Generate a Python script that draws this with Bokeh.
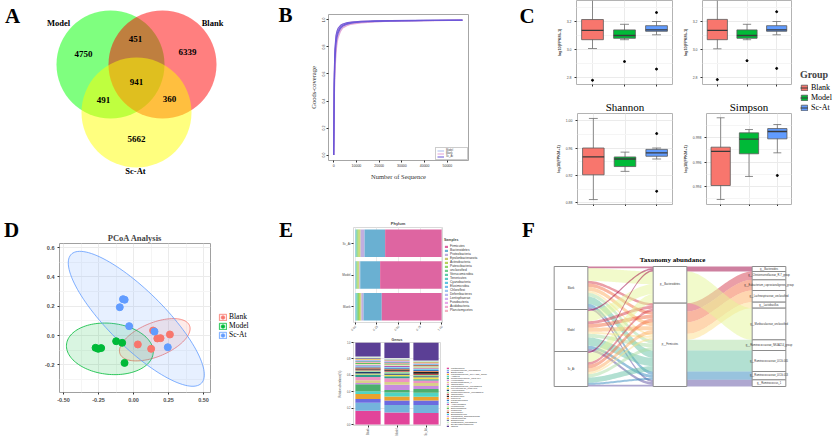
import numpy as np
from bokeh.plotting import figure
from bokeh.layouts import row, column
from bokeh.models import (Range1d, FactorRange, FixedTicker, Label, Legend, LegendItem,
                          ColumnDataSource, PrintfTickFormatter)
from bokeh.core.properties import value
from bokeh.embed import file_html
from bokeh.resources import INLINE

SERIF = "Liberation Serif"
SANS = "Liberation Sans"

# ======================= DATA =======================
# A: Venn diagram (OTU counts)
VENN_SETS = ["Model", "Blank", "Sc-At"]
VENN_FILL = ["#00FF00", "#FF0000", "#FFFF00"]
VENN_REGIONS = ["Model", "Model&Blank", "Blank", "All", "Model&Sc-At", "Blank&Sc-At", "Sc-At"]
VENN_COUNTS = [4750, 451, 6339, 941, 491, 360, 5662]

# B: Goods-coverage rarefaction curves
B_GROUPS = ["Model", "Blank", "Sc_At"]
B_COLORS = ["#A9BCEF", "#E4A3D4", "#6A55D8"]
B_DEPTH = [0, 250, 500, 1000, 1500, 2000, 3000, 4000, 6000, 8000, 12000, 18000, 25000, 35000, 45000, 56600]
B_MODEL = [
    [0, 0.42, 0.62, 0.78, 0.85, 0.885, 0.925, 0.945, 0.963, 0.972, 0.981, 0.987, 0.991, 0.994, 0.996, 0.997],
    [0, 0.50, 0.69, 0.83, 0.88, 0.91, 0.94, 0.955, 0.970, 0.977, 0.985, 0.989, 0.992, 0.995, 0.997, 0.998],
    [0, 0.55, 0.74, 0.86, 0.905, 0.928, 0.952, 0.964, 0.976, 0.982, 0.988, 0.991, 0.994, 0.996, 0.997, 0.998],
]
B_BLANK = [
    [0, 0.38, 0.58, 0.75, 0.83, 0.87, 0.915, 0.94, 0.958, 0.969, 0.978, 0.985, 0.990, 0.993, 0.995, 0.997],
    [0, 0.46, 0.66, 0.81, 0.87, 0.90, 0.935, 0.952, 0.967, 0.975, 0.983, 0.988, 0.992, 0.994, 0.996, 0.997],
    [0, 0.58, 0.76, 0.875, 0.915, 0.935, 0.957, 0.968, 0.978, 0.984, 0.989, 0.992, 0.995, 0.996, 0.998, 0.999],
]
B_SCAT = [
    [0, 0.48, 0.67, 0.82, 0.875, 0.905, 0.938, 0.955, 0.969, 0.977, 0.984, 0.989, 0.992, 0.995, 0.996, 0.998],
    [0, 0.53, 0.72, 0.85, 0.895, 0.92, 0.948, 0.961, 0.974, 0.980, 0.986, 0.990, 0.993, 0.995, 0.997, 0.998],
    [0, 0.60, 0.78, 0.885, 0.92, 0.94, 0.96, 0.97, 0.98, 0.985, 0.990, 0.993, 0.995, 0.997, 0.998, 0.999],
]

# C: alpha-diversity boxplot statistics
GROUPS = ["Blank", "Model", "Sc-At"]
GROUP_COLORS = ["#F8766D", "#00BA38", "#619CFF"]
TL_LO = [3.007, 3.07, 3.105]
TL_Q1 = [3.07, 3.08, 3.13]
TL_MED = [3.136, 3.10, 3.14]
TL_Q3 = [3.214, 3.14, 3.17]
TL_HI = [3.36, 3.18, 3.20]
TL_OUT_G = ["Blank", "Model", "Sc-At", "Sc-At"]
TL_OUT_V = [2.78, 2.914, 3.264, 2.86]
TR_LO = [3.005, 3.07, 3.105]
TR_Q1 = [3.07, 3.08, 3.13]
TR_MED = [3.136, 3.10, 3.14]
TR_Q3 = [3.215, 3.14, 3.17]
TR_HI = [3.36, 3.18, 3.20]
TR_OUT_G = ["Blank", "Model", "Sc-At", "Sc-At"]
TR_OUT_V = [2.785, 2.92, 3.27, 2.865]
SH_LO = [0.885, 0.926, 0.944]
SH_Q1 = [0.921, 0.933, 0.948]
SH_MED = [0.947, 0.944, 0.953]
SH_Q3 = [0.960, 0.947, 0.958]
SH_HI = [1.003, 0.954, 0.960]
SH_OUT_G = ["Sc-At", "Sc-At"]
SH_OUT_V = [0.981, 0.897]
SI_LO = [0.99294, 0.99482, 0.99675]
SI_Q1 = [0.99408, 0.99667, 0.99789]
SI_MED = [0.99686, 0.99786, 0.99849]
SI_Q3 = [0.99721, 0.99838, 0.99873]
SI_HI = [0.99961, 0.99865, 0.99906]
SI_OUT_G = ["Sc-At"]
SI_OUT_V = [0.9949]

# D: PCoA coordinates
D_BLANK_X = [0.031, 0.126, 0.140, 0.170, 0.193, 0.260]
D_BLANK_Y = [-0.061, -0.091, 0.034, -0.020, -0.018, 0.007]
D_MODEL_X = [-0.271, -0.252, -0.231, -0.124, -0.081, -0.064]
D_MODEL_Y = [-0.084, -0.091, -0.086, -0.039, -0.050, -0.187]
D_SCAT_X = [-0.075, -0.063, -0.098, -0.031, 0.150, 0.245]
D_SCAT_Y = [0.248, 0.244, 0.193, 0.064, 0.027, -0.080]
# confidence ellipses: centre and two conjugate semi-axis vectors (Blank, Model, Sc-At)
ELL_CX = [0.152, -0.169, 0.020]
ELL_CY = [-0.029, -0.091, 0.114]
ELL_AX = [0.248, 0.310, 0.465]
ELL_AY = [0.097, -0.020, -0.440]
ELL_BX = [0.046, 0.000, 0.141]
ELL_BY = [-0.107, 0.175, 0.136]

# E: relative abundance (phylum / genus)
E_SAMPLES = ["Blank", "Model", "Sc_At"]
PHYLA = ["Firmicutes", "Bacteroidetes", "Proteobacteria", "Epsilonbacteraeota", "Actinobacteria",
         "Patescibacteria", "unclassified", "Verrucomicrobia", "Tenericutes", "Cyanobacteria",
         "Elusimicrobia", "Chloroflexi", "Deferribacteres", "Lentisphaerae", "Fusobacteria",
         "Acidobacteria", "Planctomycetes"]
PHYLA_COLORS = ["#DE65A1", "#6AB0D2", "#C0AEE0", "#C8C86E", "#B8D45A", "#8ED46E", "#6ECC8A",
                "#5FCBA8", "#5CC8C6", "#5EC4E0", "#74BCEB", "#9CC4F0", "#B8B8F0", "#D0B0F0",
                "#E8A8E8", "#F0A8D0", "#F4B0C0"]
PH_BLANK = [69.3, 21.1, 2.5, 1.2, 1.5, 1.3, 0.9, 0.6, 0.7, 0.5, 0.2, 0.05, 0.1, 0.03, 0.01, 0.005, 0.005]
PH_MODEL = [71.2, 23.0, 1.0, 0.8, 1.2, 0.9, 0.6, 0.3, 0.4, 0.3, 0.1, 0.05, 0.1, 0.02, 0.01, 0.01, 0.01]
PH_SCAT = [65.4, 23.8, 4.6, 1.0, 1.6, 1.2, 0.8, 0.5, 0.5, 0.3, 0.1, 0.04, 0.1, 0.03, 0.01, 0.01, 0.01]

GENERA = ["Lactobacillus", "Muribaculaceae_unclassified", "Bacteroides", "Lachnospiraceae_NK4A136_group",
          "Alistipes", "Ruminococcaceae_UCG-014", "Helicobacter", "Ruminiclostridium_9", "Oscillibacter",
          "Lachnospiraceae_unclassified", "Prevotellaceae_UCG-001", "Akkermansia",
          "Ruminococcaceae_unclassified", "Odoribacter", "Desulfovibrio", "Rikenella", "Parabacteroides",
          "Blautia", "Anaeroplasma", "Mucispirillum", "Enterorhabdus", "Roseburia", "Turicibacter",
          "Bifidobacterium", "Candidatus_Saccharimonas", "Intestinimonas", "Eubacterium",
          "Clostridiales_unclassified", "Erysipelatoclostridium", "Others"]
GENUS_COLORS = ["#E2449A", "#74B3DC", "#6B6BE0", "#E8A22E", "#4FD4C4", "#4CAF6E", "#C78BE0", "#D8CF8A",
                "#EE93C3", "#2E9E8E", "#F2E250", "#1F3F6E", "#9FE0A0", "#C0504D", "#222222", "#F07840",
                "#3A78C0", "#80D0F0", "#B05AB0", "#E8E8B0", "#60C060", "#F4B6B6", "#A0522D", "#40C0E0",
                "#D0A0F0", "#F0C040", "#7070A0", "#C8F0C8", "#E0E0E0", "#5B3F95"]
GE_BLANK = [0.167, 0.099, 0.044, 0.063, 0.032, 0.087, 0.015, 0.032, 0.040, 0.031, 0.012, 0.022, 0.016,
            0.010, 0.014, 0.012, 0.011, 0.013, 0.010, 0.009, 0.012, 0.010, 0.008, 0.011, 0.009, 0.012,
            0.010, 0.008, 0.011, 0.170]
GE_MODEL = [0.147, 0.091, 0.056, 0.048, 0.048, 0.032, 0.063, 0.032, 0.046, 0.024, 0.020, 0.014, 0.022,
            0.012, 0.016, 0.010, 0.012, 0.009, 0.013, 0.011, 0.008, 0.012, 0.010, 0.009, 0.011, 0.008,
            0.010, 0.007, 0.009, 0.190]
GE_SCAT = [0.139, 0.099, 0.056, 0.044, 0.050, 0.044, 0.039, 0.036, 0.030, 0.016, 0.022, 0.012, 0.018,
           0.014, 0.024, 0.011, 0.010, 0.013, 0.009, 0.012, 0.010, 0.008, 0.011, 0.009, 0.012, 0.010,
           0.008, 0.009, 0.007, 0.218]

# F: taxonomy alluvial (sample -> phylum -> genus)
F_SAMPLES = ["Blank", "Model", "Sc_At"]
F_PHYLA = ["p__Bacteroidetes", "p__Firmicutes"]
F_GENERA = ["g__Bacteroides", "g__Christensenellaceae_R-7_group", "g__Eubacterium_coprostanoligenes_group",
            "g__Lachnospiraceae_unclassified", "g__Lactobacillus", "g__Muribaculaceae_unclassified",
            "g__Ruminococcaceae_NK4A214_group", "g__Ruminococcaceae_UCG-005", "g__Ruminococcaceae_UCG-013",
            "g__Ruminococcus_1"]
F_GENUS_PHYLUM = ["p__Bacteroidetes", "p__Firmicutes", "p__Firmicutes", "p__Firmicutes", "p__Firmicutes",
                  "p__Bacteroidetes", "p__Firmicutes", "p__Firmicutes", "p__Firmicutes", "p__Firmicutes"]
F_BLANK = [5, 8, 10, 12, 6, 38, 11, 22, 10, 7]
F_MODEL = [5, 9, 11, 12, 6, 30, 11, 25, 9, 8]
F_SCAT = [5, 8, 11, 11, 6, 27, 10, 16, 6, 5]
F_COLORS = ["#9E0142", "#D53E4F", "#F46D43", "#FDAE61", "#FEE08B", "#E6F598", "#ABDDA4", "#66C2A5",
            "#3288BD", "#5E4FA2"]

# ======================= HELPERS =======================
BORDER = "#B3B3B3"
OFF = -1000  # dummy legend renderers are placed off-canvas


def canvas(w, h, x0, x1, y0, y1):
    p = figure(width=w, height=h, x_range=Range1d(x0, x1), y_range=Range1d(y0, y1),
               x_axis_location=None, y_axis_location=None, toolbar_location=None,
               output_backend="svg", min_border=0, outline_line_color=None)
    p.frame_align = False
    p.xgrid.grid_line_color = None
    p.ygrid.grid_line_color = None
    return p


def fig(w, h, l, r, t, b, **kw):
    p = figure(width=w, height=h, min_border_left=l, min_border_right=r, min_border_top=t,
               min_border_bottom=b, toolbar_location=None, output_backend="svg", **kw)
    p.frame_align = False
    return p


def letter_text(p, txt, x, y):
    p.text(x=[x], y=[y], text=[txt], text_font=value(SERIF), text_font_style="bold",
           text_font_size="21px", text_align="center", text_baseline="middle", text_color="black")


def style_axes(p, size="3.5px", color="#4D4D4D", bold=False):
    for ax in p.axis:
        ax.major_label_text_font = SANS
        ax.major_label_text_font_size = size
        ax.major_label_text_color = color
        ax.major_label_text_font_style = "bold" if bold else "normal"
        ax.major_tick_line_color = "#333333"
        ax.major_tick_out = 2
        ax.major_tick_in = 0
        ax.minor_tick_line_color = None
        ax.axis_line_color = None
        ax.major_label_standoff = 1


# ======================= A: Venn (+ letter B) =======================
VENN_CX = [110, 162, 136]
VENN_CY = [64, 64, 112]
VENN_R = [54, 54, 55]
VENN_LX = [58, 212, 135]
VENN_LY = [22, 22, 170]
REG_X = [83, 135, 187, 136, 103, 169, 136]
REG_Y = [53, 38, 51, 81, 99, 98, 138]

pA = canvas(300, 206, 0, 300, 206, 0)
for cx, cy, rr, c in zip(VENN_CX, VENN_CY, VENN_R, VENN_FILL):
    pA.circle(x=[cx], y=[cy], radius=rr, fill_color=c, fill_alpha=0.5, line_color=None)
pA.text(x=VENN_LX, y=VENN_LY, text=VENN_SETS, text_font=value(SERIF), text_font_style="bold",
        text_font_size="8.5px", text_align="center", text_baseline="middle", text_color="black")
pA.text(x=REG_X, y=REG_Y, text=[str(v) for v in VENN_COUNTS], text_font=value(SERIF),
        text_font_style="bold", text_font_size="9px", text_align="center", text_baseline="middle",
        text_color="black")
letter_text(pA, "A", 12, 15)
letter_text(pA, "B", 285, 14)

# ======================= B: coverage curves =======================
pB = fig(176, 206, 28, 8, 14, 46, x_range=Range1d(-2280, 59280), y_range=Range1d(-0.04, 1.04))
pB.outline_line_color = "#A6A6A6"
pB.xgrid.grid_line_color = None
pB.ygrid.grid_line_color = None
b_first = {}
for name, curves, col in zip(B_GROUPS, [B_MODEL, B_BLANK, B_SCAT], B_COLORS):
    for c in curves:
        r = pB.line(B_DEPTH, c, line_color=col, line_width=1.1, line_alpha=0.9)
        b_first.setdefault(name, r)
style_axes(pB, size="3.5px", color="#333333")
pB.xaxis.ticker = FixedTicker(ticks=[0, 10000, 20000, 30000, 40000, 50000])
pB.yaxis.ticker = FixedTicker(ticks=[0, 0.2, 0.4, 0.6, 0.8, 1.0])
pB.xaxis.formatter = PrintfTickFormatter(format="%d")
pB.yaxis.formatter = PrintfTickFormatter(format="%.1f")
pB.yaxis.major_label_orientation = "vertical"
pB.xaxis.axis_label = "Number of Sequence"
pB.yaxis.axis_label = "Goods-coverage"
for ax in pB.axis:
    ax.axis_label_text_font = SERIF
    ax.axis_label_text_font_size = "6.5px"
    ax.axis_label_text_font_style = "normal"
    ax.axis_label_text_color = "#333333"
    ax.axis_label_standoff = 3
legB = Legend(items=[LegendItem(label=n, renderers=[b_first[n]]) for n in B_GROUPS],
              location="bottom_right", label_text_font=SANS, label_text_font_size="2.6px",
              label_height=3, glyph_height=3, glyph_width=7, label_standoff=2, spacing=0,
              padding=1, margin=0, border_line_color="#999999", border_line_width=0.5,
              background_fill_color="white")
pB.add_layout(legB)

# letter C
pCl = canvas(72, 206, 476, 548, 206, 0)
letter_text(pCl, "C", 526.5, 15)

# ======================= C: boxplots =======================


def box_panel(w, h, l, r, t, b, yr, ticks, minor, fmt, lo, q1, med, q3, hi, og, ov, title=None):
    p = fig(w, h, l, r, t, b, x_range=FactorRange(*GROUPS), y_range=Range1d(*yr))
    p.xgrid.grid_line_color = "#EBEBEB"
    p.ygrid.grid_line_color = "#EBEBEB"
    p.ygrid.minor_grid_line_color = "#F5F5F5"
    p.outline_line_color = BORDER
    src = ColumnDataSource(dict(
        g=GROUPS, lo=lo, q1=q1, med=med, q3=q3, hi=hi, color=GROUP_COLORS,
        cl=[(g, -0.14) for g in GROUPS], cr=[(g, 0.14) for g in GROUPS],
        ml=[(g, -0.34) for g in GROUPS], mr=[(g, 0.34) for g in GROUPS]))
    p.segment(x0="g", y0="lo", x1="g", y1="hi", source=src, line_color="#6E6E6E", line_width=0.8)
    p.segment(x0="cl", y0="lo", x1="cr", y1="lo", source=src, line_color="#6E6E6E", line_width=0.8)
    p.segment(x0="cl", y0="hi", x1="cr", y1="hi", source=src, line_color="#6E6E6E", line_width=0.8)
    p.vbar(x="g", width=0.68, bottom="q1", top="q3", fill_color="color", line_color="#5A5A5A",
           line_width=0.8, source=src)
    p.segment(x0="ml", y0="med", x1="mr", y1="med", source=src, line_color="#3A3A3A", line_width=1.3)
    p.scatter(x=og, y=ov, size=2, color="black")
    style_axes(p, size="3.5px", color="#4D4D4D")
    p.yaxis.ticker = FixedTicker(ticks=ticks, minor_ticks=minor)
    p.yaxis.formatter = PrintfTickFormatter(format=fmt)
    p.xaxis.major_label_text_color = None
    p.xaxis.major_label_text_font_size = "2px"
    p.xaxis.major_label_standoff = 0
    p.yaxis.axis_label = "log10(FPKM+1)"
    p.yaxis.axis_label_text_font = SANS
    p.yaxis.axis_label_text_font_size = "3.8px"
    p.yaxis.axis_label_text_font_style = "bold"
    p.yaxis.axis_label_standoff = 2
    if title is not None:
        p.title.text = title
        p.title.align = "center"
        p.title.text_font = SERIF
        p.title.text_font_size = "11px"
        p.title.text_font_style = "normal"
        p.title.text_color = "black"
        p.title.standoff = 1
    return p


TOP_YR = (2.75, 3.35)
TOP_TICKS = [2.8, 3.0, 3.2]
TOP_MINOR = [2.9, 3.1, 3.3]
pC1 = box_panel(132, 94, 28, 8, 0, 10, TOP_YR, TOP_TICKS, TOP_MINOR, "%.1f",
                TL_LO, TL_Q1, TL_MED, TL_Q3, TL_HI, TL_OUT_G, TL_OUT_V)
pC2 = box_panel(114, 94, 18, 3, 0, 10, TOP_YR, TOP_TICKS, TOP_MINOR, "%.1f",
                TR_LO, TR_Q1, TR_MED, TR_Q3, TR_HI, TR_OUT_G, TR_OUT_V)
pC3 = box_panel(132, 112, 29, 8, 19, 2, (0.8778, 1.0102), [0.88, 0.92, 0.96, 1.00],
                [0.90, 0.94, 0.98], "%.2f", SH_LO, SH_Q1, SH_MED, SH_Q3, SH_HI, SH_OUT_G, SH_OUT_V,
                title="Shannon")
pC4 = box_panel(114, 112, 18, 3, 19, 2, (0.99253, 0.99996), [0.994, 0.996, 0.998],
                [0.993, 0.995, 0.997, 0.999], "%.3f", SI_LO, SI_Q1, SI_MED, SI_Q3, SI_HI,
                SI_OUT_G, SI_OUT_V, title="Simpson")

pCL = canvas(41, 206, 0, 41, 0, 206)
c_items = []
for g, c in zip(GROUPS, GROUP_COLORS):
    rq = pCL.quad(left=[OFF], right=[OFF + 1], top=[OFF + 1], bottom=[OFF], fill_color=c,
                  line_color="#5A5A5A", line_width=0.8)
    rs = pCL.segment(x0=[OFF], y0=[OFF], x1=[OFF + 1], y1=[OFF], line_color="#3A3A3A", line_width=1)
    c_items.append(LegendItem(label=g, renderers=[rq, rs]))
legC = Legend(items=c_items, location=(6, 94), title="Group", title_text_font=SERIF,
              title_text_font_size="10px", title_text_font_style="bold", title_standoff=3,
              label_text_font=SERIF, label_text_font_size="8px", label_text_color="black",
              label_height=8, glyph_height=7, glyph_width=8, label_standoff=3, spacing=1,
              padding=0, margin=0, border_line_color=None, background_fill_alpha=0)
pCL.add_layout(legC)

# ======================= D: PCoA =======================
pDl = canvas(24, 232, 0, 24, 438, 206)
letter_text(pDl, "D", 11, 229)

pD = fig(188, 232, 35, 2, 37, 46, x_range=Range1d(-0.5286, 0.55), y_range=Range1d(-0.389, 0.628),
         title="PCoA Analysis")
pD.title.align = "center"
pD.title.text_font = SERIF
pD.title.text_font_size = "8.5px"
pD.title.text_font_style = "bold"
pD.title.standoff = 2
pD.outline_line_color = "#A0A0A0"
pD.xgrid.grid_line_color = "#EBEBEB"
pD.ygrid.grid_line_color = "#EBEBEB"
pD.xgrid.minor_grid_line_color = "#F5F5F5"
pD.ygrid.minor_grid_line_color = "#F5F5F5"
style_axes(pD, size="5.5px", color="#4D4D4D", bold=True)
pD.xaxis.ticker = FixedTicker(ticks=[-0.5, -0.25, 0, 0.25, 0.5], minor_ticks=[-0.375, -0.125, 0.125, 0.375])
pD.yaxis.ticker = FixedTicker(ticks=[-0.2, 0, 0.2, 0.4, 0.6], minor_ticks=[-0.3, -0.1, 0.1, 0.3, 0.5])
pD.xaxis.formatter = PrintfTickFormatter(format="%.2f")
pD.yaxis.formatter = PrintfTickFormatter(format="%.1f")
tt = np.linspace(0, 2 * np.pi, 120)
for i, c in enumerate(GROUP_COLORS):
    ex = ELL_CX[i] + ELL_AX[i] * np.cos(tt) + ELL_BX[i] * np.sin(tt)
    ey = ELL_CY[i] + ELL_AY[i] * np.cos(tt) + ELL_BY[i] * np.sin(tt)
    pD.patch(ex, ey, fill_color=c, fill_alpha=0.15, line_color=c, line_alpha=0.8, line_width=1)
for (xs, ys), c in zip([(D_BLANK_X, D_BLANK_Y), (D_MODEL_X, D_MODEL_Y), (D_SCAT_X, D_SCAT_Y)], GROUP_COLORS):
    pD.scatter(xs, ys, size=7, fill_color=c, line_color=c)

# D legend + letter E
pDleg = canvas(88, 232, 212, 300, 438, 206)
d_items = []
for g, c in zip(GROUPS, GROUP_COLORS):
    rp = pDleg.patch([OFF, OFF + 1, OFF + 1], [OFF, OFF, OFF + 1], fill_color=c, fill_alpha=0.15,
                     line_color=c, line_alpha=0.8, line_width=1)
    rs = pDleg.scatter([OFF], [OFF], size=7, fill_color=c, line_color=c)
    d_items.append(LegendItem(label=g, renderers=[rp, rs]))
legD = Legend(items=d_items, location=(6, 99), label_text_font=SERIF, label_text_font_size="7.5px",
              label_text_color="black", label_height=9, glyph_height=8, glyph_width=9,
              label_standoff=2, spacing=0, padding=0, margin=0, border_line_color=None,
              background_fill_alpha=0)
pDleg.add_layout(legD)
letter_text(pDleg, "E", 285.5, 229)

# ======================= E: stacked bars =======================
pE1 = fig(143, 128, 53, 1, 21, 11, y_range=FactorRange(*E_SAMPLES), x_range=Range1d(-0.02, 1.01),
          title="Phylum")
pE1.title.align = "center"
pE1.title.text_font = SANS
pE1.title.text_font_size = "4px"
pE1.title.text_font_style = "bold"
pE1.title.standoff = 4
pE1.outline_line_color = "#D9D9D9"
pE1.xgrid.grid_line_color = "#EBEBEB"
pE1.ygrid.grid_line_color = None
src1 = {"sample": E_SAMPLES}
for i, ph in enumerate(PHYLA):
    src1[ph] = [PH_BLANK[i] / 100, PH_MODEL[i] / 100, PH_SCAT[i] / 100]
pE1.hbar_stack(PHYLA[::-1], y="sample", height=0.87, fill_color=PHYLA_COLORS[::-1],
               line_color=None, source=ColumnDataSource(src1))
style_axes(pE1, size="3px", color="#4D4D4D")
pE1.xaxis.ticker = FixedTicker(ticks=[0, 0.25, 0.5, 0.75, 1.0])
pE1.xaxis.formatter = PrintfTickFormatter(format="%.2f")
pE1.xaxis.major_label_orientation = np.pi / 4

pE2 = fig(143, 104, 53, 3, 8, 11, x_range=FactorRange(*E_SAMPLES), y_range=Range1d(-0.012, 1.0),
          title="Genus")
pE2.title.align = "center"
pE2.title.text_font = SANS
pE2.title.text_font_size = "3.5px"
pE2.title.text_font_style = "bold"
pE2.title.standoff = 2
pE2.outline_line_color = "#D9D9D9"
pE2.xgrid.grid_line_color = None
pE2.ygrid.grid_line_color = "#EBEBEB"
src2 = {"sample": E_SAMPLES}
for i, gn in enumerate(GENERA):
    src2[gn] = [GE_BLANK[i], GE_MODEL[i], GE_SCAT[i]]
pE2.vbar_stack(GENERA, x="sample", width=0.87, fill_color=GENUS_COLORS, line_color=None,
               source=ColumnDataSource(src2))
style_axes(pE2, size="2.6px", color="#4D4D4D")
pE2.yaxis.ticker = FixedTicker(ticks=[0, 0.2, 0.4, 0.6, 0.8, 1.0])
pE2.yaxis.formatter = PrintfTickFormatter(format="%.1f")
pE2.xaxis.major_label_orientation = np.pi / 2
pE2.yaxis.axis_label = "Relative abundance(%)"
pE2.yaxis.axis_label_text_font = SANS
pE2.yaxis.axis_label_text_font_size = "2.6px"
pE2.yaxis.axis_label_text_font_style = "normal"
pE2.yaxis.axis_label_standoff = 2

# E legends
pEleg = canvas(77, 232, 0, 77, 0, 232)
e1_items = []
for ph, c in zip(PHYLA, PHYLA_COLORS):
    r = pEleg.quad(left=[OFF], right=[OFF + 1], top=[OFF + 1], bottom=[OFF], fill_color=c, line_color=None)
    e1_items.append(LegendItem(label=ph, renderers=[r]))
legE1 = Legend(items=e1_items, location=(1, 126), title="Samples", title_text_font=SANS,
               title_text_font_size="3.5px", title_text_font_style="bold", title_standoff=2,
               label_text_font=SANS, label_text_font_size="3.2px", label_text_color="#333333",
               label_height=3, glyph_height=3, glyph_width=4, label_standoff=2, spacing=0,
               padding=0, margin=0, border_line_color=None, background_fill_alpha=0)
pEleg.add_layout(legE1)
e2_items = []
for gn, c in zip(GENERA, GENUS_COLORS):
    r = pEleg.quad(left=[OFF], right=[OFF + 1], top=[OFF + 1], bottom=[OFF], fill_color=c, line_color=None)
    e2_items.append(LegendItem(label=gn, renderers=[r]))
legE2 = Legend(items=e2_items, location=(3, 11), label_text_font=SANS, label_text_font_size="2.3px",
               label_text_color="#333333", label_height=2, glyph_height=2, glyph_width=3,
               label_standoff=2, spacing=0, padding=0, margin=0, border_line_color=None,
               background_fill_alpha=0)
pEleg.add_layout(legE2)

# ======================= F: alluvial =======================
pF = canvas(315, 232, 0.4899, 3.6717, -156, 540)
ab = np.array([F_BLANK, F_MODEL, F_SCAT], dtype=float)
total = ab.sum()
gph = [F_PHYLA.index(p) for p in F_GENUS_PHYLUM]
HW = 0.17

seg1, samp_box = {}, []
y = total
for s in range(len(F_SAMPLES)):
    top = y
    for g in sorted(range(len(F_GENERA)), key=lambda k: (gph[k], k)):
        seg1[(s, g)] = (y, y - ab[s, g])
        y -= ab[s, g]
    samp_box.append((top, y))

seg2, band2, ph_box = {}, {}, []
y = total
for pi in range(len(F_PHYLA)):
    top = y
    for g in range(len(F_GENERA)):
        if gph[g] != pi:
            continue
        gt = y
        for s in range(len(F_SAMPLES)):
            seg2[(s, g)] = (y, y - ab[s, g])
            y -= ab[s, g]
        band2[g] = (gt, y)
    ph_box.append((top, y))

gen_box = []
y = total
for g in range(len(F_GENERA)):
    v = ab[:, g].sum()
    gen_box.append((y, y - v))
    y -= v


def flow(x0, x1, a, b, n=40):
    t = np.linspace(0, 1, n)
    s = t * t * (3 - 2 * t)
    xs = x0 + (x1 - x0) * t
    top = a[0] + (b[0] - a[0]) * s
    bot = a[1] + (b[1] - a[1]) * s
    return list(xs) + list(xs[::-1]), list(top) + list(bot[::-1])


fx, fy, fc = [], [], []
for s in range(len(F_SAMPLES)):
    for g in range(len(F_GENERA)):
        xx, yy = flow(1 + HW, 2 - HW, seg1[(s, g)], seg2[(s, g)])
        fx.append(xx); fy.append(yy); fc.append(F_COLORS[g])
for g in range(len(F_GENERA)):
    xx, yy = flow(2 + HW, 3 - HW, band2[g], gen_box[g])
    fx.append(xx); fy.append(yy); fc.append(F_COLORS[g])
pF.patches(xs=fx, ys=fy, fill_color=fc, fill_alpha=0.5, line_color=None)


def strata(xc, boxes, labels):
    pF.quad(left=[xc - HW] * len(boxes), right=[xc + HW] * len(boxes), top=[b[0] for b in boxes],
            bottom=[b[1] for b in boxes], fill_color="white", line_color="#8C8C8C", line_width=1)
    pF.text(x=[xc] * len(boxes), y=[(b[0] + b[1]) / 2 for b in boxes], text=labels,
            text_font=value(SANS), text_font_size="2.6px", text_align="center",
            text_baseline="middle", text_color="#333333")


strata(1, samp_box, F_SAMPLES)
strata(2, ph_box, F_PHYLA)
strata(3, gen_box, F_GENERA)
pF.add_layout(Label(x=152, y=179, x_units="screen", y_units="screen", text="Taxonomy abundance",
                    text_font=SERIF, text_font_size="7px", text_font_style="bold",
                    text_align="center", text_baseline="middle", text_color="black"))
pF.add_layout(Label(x=8, y=209, x_units="screen", y_units="screen", text="F",
                    text_font=SERIF, text_font_size="21px", text_font_style="bold",
                    text_align="center", text_baseline="middle", text_color="black"))

# ======================= LAYOUT =======================
top = row(pA, pB, pCl, column(pC1, pC3), column(pC2, pC4), pCL)
bottom = row(pDl, pD, pDleg, column(pE1, pE2), pEleg, pF)
layout = column(top, bottom)
open("out.html", "w").write(file_html(layout, INLINE, "Figure"))
